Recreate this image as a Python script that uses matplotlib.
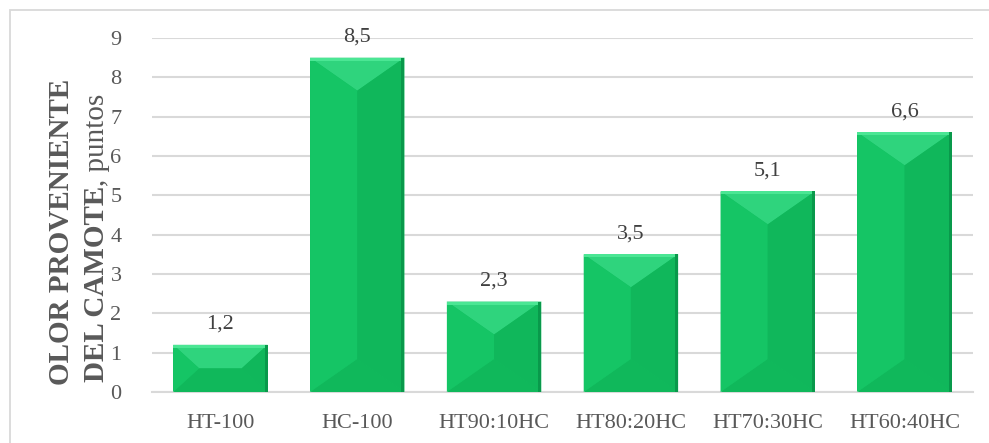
import numpy as np
import matplotlib
matplotlib.use('Agg')
import matplotlib.pyplot as plt
from matplotlib.patches import Polygon, Rectangle

plt.rcParams['font.family'] = ['Liberation Serif', 'DejaVu Serif']

categorias = ['HT-100', 'HC-100', 'HT90:10HC', 'HT80:20HC', 'HT70:30HC', 'HT60:40HC']
valores = [1.2, 8.5, 2.3, 3.5, 5.1, 6.6]
yticks = list(range(0, 10))

gris = '#595959'
gris_linea = '#d9d9d9'

fig = plt.figure(figsize=(9.89, 4.43), dpi=100)
# marco del grafico (sale por la derecha y abajo, como en la captura)
fig.patches.append(Rectangle((10 / 989, -0.1), 1.2, (433 / 443) + 0.1,
                             transform=fig.transFigure, fill=False,
                             edgecolor=gris_linea, linewidth=1.3))

ax = fig.add_axes([152 / 989, 51 / 443, 821 / 989, 354 / 443])
x = np.arange(len(categorias))
barras = ax.bar(x, valores, width=0.69, color='#12c060', zorder=2)

ax.set_xlim(-0.5, len(categorias) - 0.5)
ax.set_ylim(0, 9)
ax.set_yticks(yticks)
ax.set_xticks(x)
ax.set_xticklabels(categorias)
ax.tick_params(length=0, labelsize=16, labelcolor=gris)
ax.tick_params(axis='y', pad=22)
ax.tick_params(axis='x', pad=16)
ax.grid(axis='y', color=gris_linea, linewidth=1.5, zorder=0)
for s in ['top', 'right', 'left']:
    ax.spines[s].set_visible(False)
ax.spines['bottom'].set_color(gris_linea)
ax.spines['bottom'].set_linewidth(1.5)

# efecto bisel en cada barra
inv = ax.transData.inverted()
caras = {'top': '#2fd47d', 'left': '#15c565', 'right': '#10b75b',
         'bottom': '#10b85b'}
for b in barras:
    (px0, py0), (px1, py1) = ax.transData.transform(
        [(b.get_x(), 0), (b.get_x() + b.get_width(), b.get_height())])
    w = px1 - px0
    h = py1 - py0
    dx = min(w / 2, 0.55 * h)
    dy = min(0.5 * h, 33)
    polys = {
        'top': [(px0, py1), (px1, py1), (px1 - dx, py1 - dy), (px0 + dx, py1 - dy)],
        'bottom': [(px0, py0), (px1, py0), (px1 - dx, py0 + dy), (px0 + dx, py0 + dy)],
        'left': [(px0, py0), (px0, py1), (px0 + dx, py1 - dy), (px0 + dx, py0 + dy)],
        'right': [(px1, py0), (px1, py1), (px1 - dx, py1 - dy), (px1 - dx, py0 + dy)],
    }
    for k, pts in polys.items():
        ax.add_patch(Polygon(inv.transform(pts), closed=True, facecolor=caras[k],
                             edgecolor='none', zorder=3))
    # borde claro arriba y oscuro a la derecha
    ax.add_patch(Polygon(inv.transform([(px0, py1), (px1, py1), (px1, py1 - 3), (px0, py1 - 3)]),
                         facecolor='#4be694', edgecolor='none', zorder=4))
    ax.add_patch(Polygon(inv.transform([(px1 - 3, py0), (px1, py0), (px1, py1), (px1 - 3, py1)]),
                         facecolor='#09994b', edgecolor='none', zorder=4))

for xi, v in zip(x, valores):
    ax.annotate(f'{v:.1f}'.replace('.', ','), (xi, v), xytext=(0, 8),
                textcoords='offset points', ha='center', va='bottom',
                fontsize=16, color='#404040')

# titulo del eje y en dos lineas, con partes en negrita
fig.text(62 / 989, 1 - 232 / 443, 'OLOR PROVENIENTE', rotation=90,
         ha='center', va='center', fontsize=21, fontweight='bold', color=gris)
t1 = fig.text(97 / 989, 1 - 382 / 443, 'DEL CAMOTE', rotation=90,
              ha='center', va='bottom', fontsize=21, fontweight='bold', color=gris)
fig.canvas.draw()
bb = t1.get_window_extent()
fig.text(97 / 989, bb.y1 / 443, ', puntos', rotation=90,
         ha='center', va='bottom', fontsize=21, color=gris)

fig.savefig('out.png', dpi=100)
